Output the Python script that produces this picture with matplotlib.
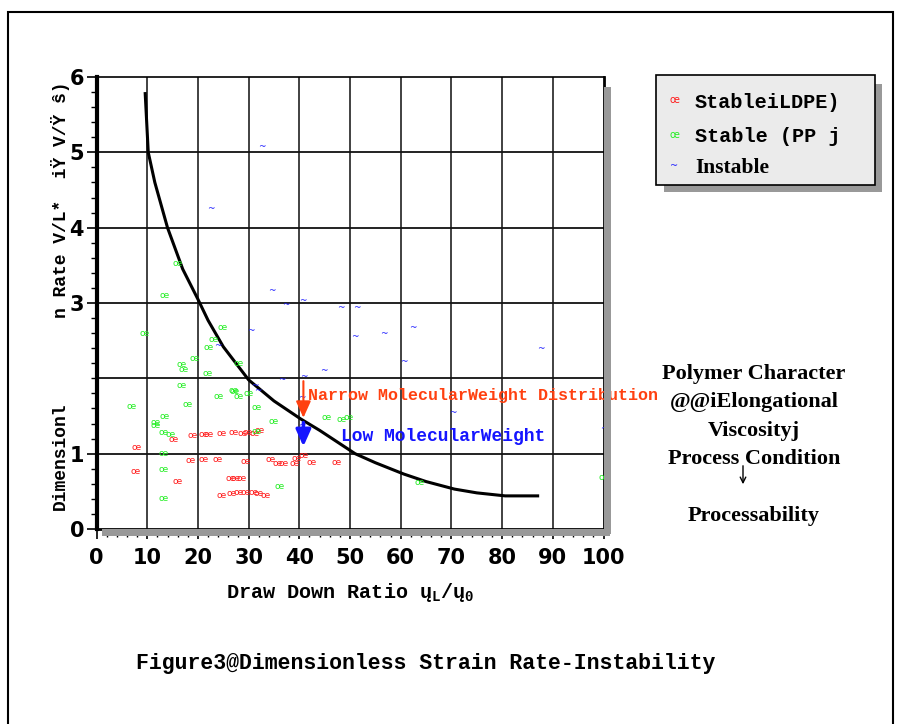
import matplotlib
matplotlib.use("Agg")
import matplotlib.pyplot as plt
from matplotlib.patches import Rectangle
from matplotlib.ticker import MultipleLocator, FixedLocator

plt.rcParams['mathtext.fontset'] = 'custom'
plt.rcParams['mathtext.rm'] = 'Liberation Mono:bold'
plt.rcParams['mathtext.it'] = 'Liberation Mono:bold'

MONO = 'Liberation Mono'
SERIF = 'Liberation Serif'

# boundary curve (draw down ratio, dimensionless strain rate)
curve_x = [9.6, 10.2, 11.5, 14.0, 17.0, 20.0, 22.0, 25.0, 30.0, 35.0, 40.3, 44.0,
           51.0, 55.0, 60.6, 65.0, 70.6, 75.0, 80.6, 87.0]
curve_y = [5.78, 5.0, 4.6, 4.0, 3.45, 3.05, 2.77, 2.42, 1.98, 1.70, 1.46, 1.31,
           1.0, 0.88, 0.73, 0.63, 0.53, 0.48, 0.44, 0.44]

# stable LDPE
ldpe_x = [7.9, 7.6, 15.2, 15.8, 18.4, 18.9, 21.0, 22.0, 21.0, 23.8, 24.6, 26.9,
          28.7, 29.7, 31.0, 32.0, 29.3, 34.3, 35.6, 36.9, 39.0, 39.3, 40.7, 42.3,
          47.3, 26.3, 27.4, 28.5, 24.5, 26.6, 27.9, 29.4, 30.9, 31.9, 33.3]
ldpe_y = [1.08, 0.77, 1.19, 0.63, 0.91, 1.24, 1.25, 1.26, 0.92, 0.92, 1.27, 1.28,
          1.27, 1.28, 1.27, 1.31, 0.89, 0.92, 0.87, 0.87, 0.87, 0.93, 0.97, 0.88,
          0.88, 0.67, 0.67, 0.67, 0.45, 0.47, 0.48, 0.48, 0.48, 0.47, 0.45]

# stable PP
pp_x = [13.4, 15.8, 9.4, 24.7, 22.9, 22.1, 19.3, 16.7, 17.1, 21.8, 27.9, 16.7,
        23.9, 26.9, 27.2, 27.9, 29.9, 17.9, 6.9, 31.5, 13.4, 11.6, 11.6, 13.2,
        14.6, 34.9, 13.2, 13.2, 13.2, 36.1, 45.3, 48.3, 49.7, 63.6, 100.0, 31.4]
pp_y = [3.10, 3.53, 2.60, 2.68, 2.52, 2.41, 2.26, 2.19, 2.12, 2.07, 2.20, 1.91,
        1.76, 1.84, 1.82, 1.76, 1.80, 1.65, 1.62, 1.61, 1.50, 1.42, 1.37, 1.28,
        1.25, 1.43, 1.00, 0.79, 0.41, 0.56, 1.48, 1.46, 1.48, 0.62, 0.68, 1.30]

# instable
ins_x = [32.5, 22.6, 34.5, 37.4, 40.6, 48.1, 51.3, 30.5, 50.9, 56.6, 62.3, 60.6,
         87.6, 44.9, 40.8, 36.6, 23.9, 31.3, 31.9, 40.5, 40.5, 70.3, 100.0]
ins_y = [5.08, 4.25, 3.16, 2.98, 3.03, 2.94, 2.94, 2.64, 2.55, 2.60, 2.67, 2.23,
         2.40, 2.10, 2.02, 1.98, 2.44, 1.91, 1.84, 1.74, 1.37, 1.55, 1.34]

x_ticks = [0, 10, 20, 30, 40, 50, 60, 70, 80, 90, 100]
y_ticks = [0, 1, 3, 4, 5, 6]

fig = plt.figure(figsize=(8.98, 7.24), dpi=100)
ax = fig.add_axes([0.1075, 0.2693, 0.5646, 0.6243])

# shadows
fig.patches.append(Rectangle((0.6725, 0.262), 0.0075, 0.618, transform=fig.transFigure,
                             facecolor='#999999', edgecolor='none', zorder=0))
fig.patches.append(Rectangle((0.114, 0.259), 0.5655, 0.0105, transform=fig.transFigure,
                             facecolor='#999999', edgecolor='none', zorder=0))

ax.set_xlim(0, 100)
ax.set_ylim(0, 6)

for gx in x_ticks[1:-1]:
    ax.axvline(gx, color='#333333', lw=1.3, zorder=1)
for gy in [1, 2, 3, 4, 5]:
    ax.axhline(gy, color='#111111', lw=1.3, zorder=1)

ax.plot(curve_x, curve_y, color='black', lw=2.2, zorder=3)

for x, y in zip(ldpe_x, ldpe_y):
    ax.text(x, y, 'œ', color='#ff1a1a', fontsize=6.5, ha='center', va='center', zorder=4)
for x, y in zip(pp_x, pp_y):
    ax.text(x, y, 'œ', color='#22ee22', fontsize=6.5, ha='center', va='center', zorder=4,
            clip_on=False)
for x, y in zip(ins_x, ins_y):
    ax.text(x, y, '~', color='#2020ff', fontsize=6.5, ha='center', va='center', zorder=4,
            clip_on=False)

# arrows and notes
ax.annotate('', xy=(40.8, 1.44), xytext=(40.8, 2.0),
            arrowprops=dict(arrowstyle='-|>,head_width=0.45,head_length=1.0',
                            color='#ff4010', lw=1.5), zorder=5)
ax.annotate('', xy=(40.8, 1.06), xytext=(40.8, 1.45),
            arrowprops=dict(arrowstyle='-|>,head_width=0.45,head_length=1.0',
                            color='#1515ff', lw=2.5), zorder=5)
ax.text(41.8, 1.77, 'Narrow MolecularWeight Distribution', color='#ff4010',
        fontsize=12, family=MONO, weight='bold', va='center', clip_on=False, zorder=6)
ax.text(48.2, 1.23, 'Low MolecularWeight', color='#1515ff',
        fontsize=13, family=MONO, weight='bold', va='center', zorder=6)

for side in ['left', 'bottom', 'top', 'right']:
    ax.spines[side].set_color('black')
ax.spines['left'].set_linewidth(3)
ax.spines['bottom'].set_linewidth(2)
ax.spines['top'].set_linewidth(1.2)
ax.spines['right'].set_linewidth(2)

ax.xaxis.set_major_locator(FixedLocator(x_ticks))
ax.xaxis.set_minor_locator(MultipleLocator(2))
ax.yaxis.set_major_locator(FixedLocator(y_ticks))
ax.yaxis.set_minor_locator(MultipleLocator(0.2))
ax.tick_params(axis='x', which='major', direction='out', length=7, width=1.2, pad=7,
               labelsize=15)
ax.tick_params(axis='x', which='minor', direction='out', length=6, width=1)
ax.tick_params(axis='y', which='major', direction='out', length=7, width=1.2, pad=2,
               labelsize=15)
ax.tick_params(axis='y', which='minor', direction='out', length=4, width=1)
for lab in ax.get_xticklabels() + ax.get_yticklabels():
    lab.set_fontweight('bold')

ax.set_xlabel('Draw Down Ratio $\\mathrm{ų_L/ų_0}$', family=MONO, weight='bold',
              fontsize=14.5, labelpad=9)

fig.text(60 / 898, 1 - 456 / 724, 'Dimensionl', rotation=90, family=MONO,
         weight='bold', fontsize=13, ha='center', va='center')
fig.text(60 / 898, 1 - 200 / 724, 'n Rate V/L*  iŸ V/Ÿ ŝ)', rotation=90, family=MONO,
         weight='bold', fontsize=13, ha='center', va='center')

# legend box
fig.patches.append(Rectangle((664 / 898, 1 - 192 / 724), 218 / 898, 108 / 724,
                             transform=fig.transFigure, facecolor='#999999',
                             edgecolor='none', zorder=1))
fig.patches.append(Rectangle((656 / 898, 1 - 185 / 724), 219 / 898, 110 / 724,
                             transform=fig.transFigure, facecolor='#ebebeb',
                             edgecolor='black', lw=1.2, zorder=2))
leg_rows = [('œ', '#ff1a1a', 'StableiLDPE)', MONO, 102),
            ('œ', '#22ee22', 'Stable (PP j', MONO, 137),
            ('~', '#2020ff', 'Instable', SERIF, 168)]
for mk, col, lab, fam, py in leg_rows:
    fig.text(674 / 898, 1 - (py - 2) / 724, mk, color=col, fontsize=7,
             ha='center', va='center', zorder=3)
    fig.text(695 / 898, 1 - py / 724, lab, family=fam, weight='bold',
             fontsize=14.5 if fam == MONO else 15.5, va='center', zorder=3)

# side notes
notes = [('Polymer Character', 374), ('@@iElongational', 402), ('Viscosityj', 431),
         ('Process Condition', 459), ('Processability', 516)]
for txt, py in notes:
    fig.text(754 / 898, 1 - py / 724, txt, family=SERIF, weight='bold', fontsize=16,
             ha='center', va='center')
ax.annotate('', xy=(743 / 898, 1 - 487 / 724), xytext=(743 / 898, 1 - 463 / 724),
            xycoords='figure fraction', textcoords='figure fraction',
            arrowprops=dict(arrowstyle='->', color='black', lw=1))

fig.text(426 / 898, 1 - 663 / 724, 'Figure3@Dimensionless Strain Rate-Instability',
         family=MONO, weight='bold', fontsize=15.5, ha='center', va='center')

# outer frame
fig.patches.append(Rectangle((8 / 898, -0.02), 885 / 898, 1.02 - 12 / 724,
                             transform=fig.transFigure, fill=False,
                             edgecolor='black', lw=1.5))

fig.savefig('out.png', dpi=100)
